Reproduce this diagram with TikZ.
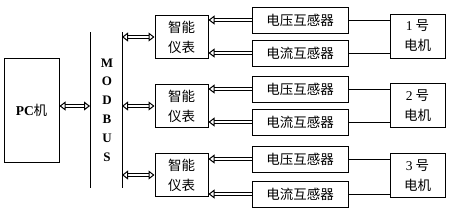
\documentclass[tikz,border=0pt]{standalone}
\usepackage{fontspec}
\setmainfont{Liberation Serif}
\newfontfamily\cjk{Noto Sans CJK SC}
\usetikzlibrary{arrows.meta}

\begin{document}
\begin{tikzpicture}[
  x=1pt, y=-1pt,
  font=\fontsize{13.5}{20}\selectfont\cjk,
  bx/.style={draw, line width=1pt, align=center, inner sep=0pt},
  pcbox/.style={bx, minimum width=55pt, minimum height=104pt},
  meter/.style={bx, minimum width=53pt, minimum height=43pt},
  sensor/.style={bx, minimum width=96pt, minimum height=26pt},
  motor/.style={bx, minimum width=55pt, minimum height=44pt},
  bus/.style={line width=1pt},
  ln/.style={line width=1pt},
  dbl/.style={double, double distance=2pt, line width=1pt},
  dbl2/.style={dbl, {Triangle[open, length=6pt, width=9pt]}-{Triangle[open, length=6pt, width=9pt]}},
  dbl1/.style={dbl, {Triangle[open, length=6pt, width=9pt]}-}
]
\useasboundingbox (0,0) rectangle (450,210);

% ================= PC and bus =================
\node[pcbox] (pc) at (31.5,110) {{\rmfamily\bfseries PC}机};
\coordinate (b1top) at (90,32);
\coordinate (b1bot) at (90,188);
\coordinate (b2top) at (122,32);
\coordinate (b2bot) at (122,188);
\draw[bus] (b1top) -- (b1bot);
\draw[bus] (b2top) -- (b2bot);
\node[font=\fontsize{13}{18.8}\selectfont\rmfamily\bfseries, align=center]
  (modbus) at (107,110) {M\\O\\D\\B\\U\\S};

% ================= meters, sensors, motors =================
\node[meter] (mt1) at (181.5, 37) {智能\\仪表};
\node[meter] (mt2) at (181.5,106) {智能\\仪表};
\node[meter] (mt3) at (181.5,175) {智能\\仪表};

\node[sensor] (v1) at (300, 20) {电压互感器};
\node[sensor] (c1) at (300, 53) {电流互感器};
\node[sensor] (v2) at (300, 89) {电压互感器};
\node[sensor] (c2) at (300,122) {电流互感器};
\node[sensor] (v3) at (300,159) {电压互感器};
\node[sensor] (c3) at (300,194) {电流互感器};

\node[motor] (mo1) at (417.5, 36) {{\rmfamily 1} 号\\电机};
\node[motor] (mo2) at (417.5,105.5) {{\rmfamily 2} 号\\电机};
\node[motor] (mo3) at (417.5,175.5) {{\rmfamily 3} 号\\电机};

% ================= connectors =================
\draw[dbl2] (pc.east |- mt2) -- (b1top |- mt2);
\foreach \i in {1,2,3} {
  \draw[dbl2] (b2top |- mt\i) -- (mt\i.west);
  \draw[dbl1] (mt\i.east |- v\i) -- (v\i.west);
  \draw[dbl1] (mt\i.east |- c\i) -- (c\i.west);
  \draw[ln] (v\i.east) -- (mo\i.west |- v\i);
  \draw[ln] (c\i.east) -- (mo\i.west |- c\i);
}
\end{tikzpicture}
\end{document}
